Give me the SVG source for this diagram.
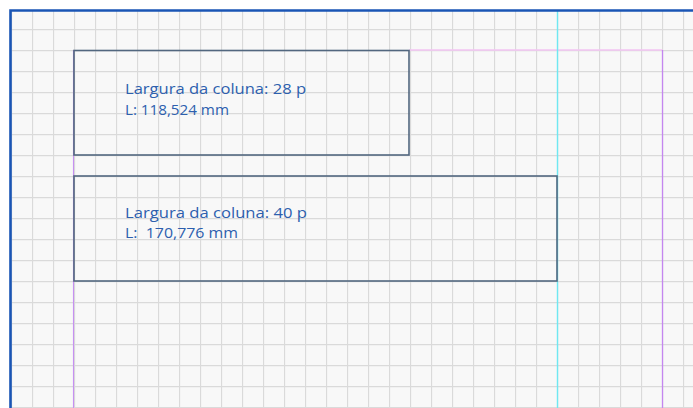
<svg xmlns="http://www.w3.org/2000/svg" width="693" height="408" viewBox="0 0 693 408">
<defs>
<style>
.box{fill:none;stroke:#52677f;stroke-width:1.6}
.lbl{font-family:"Open Sans","Liberation Sans",sans-serif;font-size:15px;fill:#2d5fae;white-space:pre}
</style>
<pattern id="g" x="11" y="8" width="21" height="21" patternUnits="userSpaceOnUse">
<path d="M0.5 0V21M0 0.5H21" fill="none" stroke="#dadada" stroke-width="1.3"/>
</pattern>
</defs>
<rect width="693" height="408" fill="#ffffff"/>
<rect x="10" y="10" width="683" height="398" fill="#f8f8f8"/>
<rect x="10" y="10" width="683" height="398" fill="url(#g)"/>
<g id="guides">
<polyline points="409,50 662.5,50" fill="none" stroke="#f3c4f3" stroke-width="1.5"/>
<line x1="662.5" y1="50" x2="662.5" y2="408" stroke="#c486f0" stroke-width="1.3"/>
<line x1="73.5" y1="50" x2="73.5" y2="408" stroke="#c690f2" stroke-width="1.1"/>
<line x1="557.5" y1="10" x2="557.5" y2="408" stroke="#6fe8f2" stroke-width="1.4"/>
</g>
<g id="border">
<path d="M693 10.5H10.5V408" fill="none" stroke="#1a55b5" stroke-width="2.6"/>
</g>
<g id="box1">
<rect class="box" x="74" y="50.5" width="335" height="104.5"/>
<text class="lbl" x="125" y="94" textLength="181" lengthAdjust="spacingAndGlyphs">Largura da coluna: 28 p</text>
<text class="lbl" x="125" y="115" textLength="104" lengthAdjust="spacingAndGlyphs">L: 118,524 mm</text>
</g>
<g id="box2">
<rect class="box" x="74" y="176" width="483" height="105"/>
<text class="lbl" x="125" y="217.5" textLength="182" lengthAdjust="spacingAndGlyphs">Largura da coluna: 40 p</text>
<text class="lbl" x="125" y="238" textLength="113" lengthAdjust="spacingAndGlyphs" xml:space="preserve">L:  170,776 mm</text>
</g>
<g id="connectors"></g>
</svg>
